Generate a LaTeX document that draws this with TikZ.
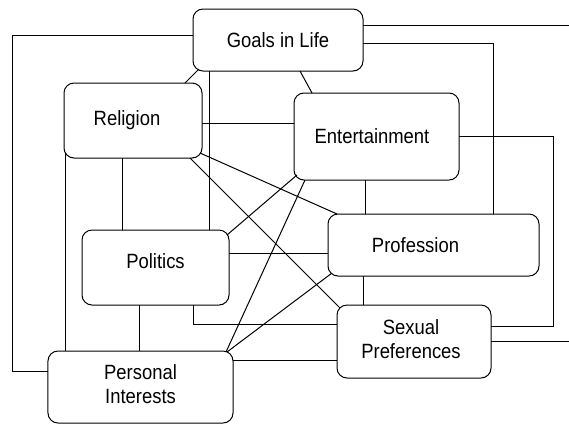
\documentclass[tikz,border=0pt]{standalone}
\usepackage{fontspec}
\setmainfont{Liberation Sans}
\usetikzlibrary{calc}
\newcommand\tx[1]{\scalebox{1}[1.12]{#1}}
\begin{document}
\begin{tikzpicture}[x=1bp,y=-1bp,
  box/.style={draw, line width=1bp, rounded corners=10bp, inner sep=0pt, outer sep=0pt,
              font=\fontsize{18.5}{21.4}\selectfont},
  wire/.style={line width=1bp}]
\useasboundingbox[fill=white] (0,0) rectangle (569,425);

\node[box, minimum width=170bp, minimum height=62bp] (G) at (278,40) {\tx{Goals in Life}};
\node[box, minimum width=138bp, minimum height=75bp] (R) at (133,120.5) {\kern-12bp\tx{Religion}};
\node[box, minimum width=165bp, minimum height=87bp] (E) at (376.5,136.5) {\kern-9bp\tx{Entertainment}};
\node[box, minimum width=147bp, minimum height=75bp] (Po) at (155.5,267.5) {\raisebox{6bp}[\height][\depth]{\tx{Politics}}};
\node[box, minimum width=185bp, minimum height=72bp] (PI) at (140.5,387) {\tx{\begin{tabular}{@{}c@{}}Personal\\Interests\end{tabular}}};
\node[box, minimum width=211bp, minimum height=62bp] (Pr) at (433.5,245) {\kern-36bp\tx{Profession}};
\node[box, minimum width=154bp, minimum height=73bp] (S) at (414,341.5) {\kern-6bp\tx{\begin{tabular}{@{}c@{}}Sexual\\Preferences\end{tabular}}};

\coordinate (RE) at (569,0);
\coordinate (L) at (12,0);
\coordinate (RX) at (553,0);
\coordinate (b3) at ([yshift=16bp]PI.west);
\coordinate (b15) at ([yshift=15.5bp]S.east);

% Goals
\draw[wire] ([yshift=-16bp]G.north east) coordinate (a1) -- (a1 -| RE);
\draw[wire] ([yshift=-3bp]G.east) -| ([xshift=59.5bp]Pr.north);
\draw[wire] ([yshift=5bp]G.west) coordinate (a3) -- (a3 -| L) -- (L |- b3) -- (b3);
\draw[wire] ([xshift=6bp,yshift=2bp]G.south west) -- ([xshift=-17bp]R.north east);
\draw[wire] ([xshift=16bp]G.south west) coordinate (a5) -- (a5 |- Po.north);
\draw[wire] ([xshift=22bp]G.south) -- ([xshift=-64.5bp]E.north);
% Religion
\draw[wire] ([yshift=-2.5bp]R.east) coordinate (a7) -- (a7 -| E.west);
\draw[wire] ([xshift=-11bp]R.south) coordinate (a8) -- (a8 |- Po.north);
\draw[wire] ([xshift=1bp,yshift=5bp]R.south west) coordinate (a9) -- (a9 |- PI.north);
\draw[wire] ([xshift=-2bp,yshift=5bp]R.south east) -- ([xshift=9bp]Pr.north west);
\draw[wire] ([xshift=-12bp]R.south east) -- ([xshift=3bp,yshift=-3bp]S.north west);
% Entertainment
\draw[wire] ([xshift=3bp,yshift=5bp]E.south west) -- ([xshift=-2bp,yshift=-5bp]Po.north east);
\draw[wire] ([xshift=11bp]E.south west) -- ([xshift=-7bp,yshift=-1bp]PI.north east);
\draw[wire] ([xshift=-11.5bp]E.south) coordinate (a14) -- (a14 |- Pr.north);
\draw[wire] (E.east) -- (E.east -| RX) -- (RX |- b15) -- (b15);
% Politics
\draw[wire] ([yshift=14.5bp]Po.east) coordinate (a16) -- (a16 -| Pr.west);
\draw[wire] ([xshift=37.5bp]Po.south) |- ([yshift=17.5bp]S.west);
\draw[wire] ([xshift=-16.5bp]Po.south) coordinate (a18) -- (a18 |- PI.north);
% Personal Interests
\draw[wire] ([xshift=-6bp,yshift=-1bp]PI.north east) -- ([xshift=4bp,yshift=3bp]Pr.south west);
\draw[wire] ([yshift=27bp]PI.east) coordinate (a20) -- (a20 -| S.west);
% Profession / Sexual
\draw[wire] ([xshift=-70.5bp]Pr.south) coordinate (a21) -- (a21 |- S.north);
\draw[wire] (S.east) -- (S.east -| RE);
\end{tikzpicture}
\end{document}
